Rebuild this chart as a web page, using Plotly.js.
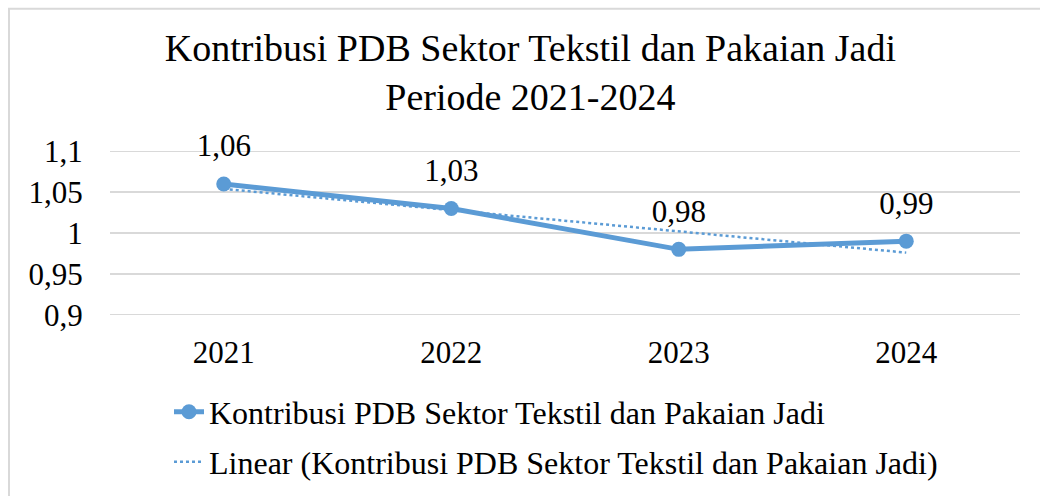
<!DOCTYPE html>
<html>
<head>
<meta charset="utf-8">
<script src="https://cdn.plot.ly/plotly-3.0.1.min.js"></script>
<style>
html,body{margin:0;padding:0;background:#fff;}
#chart{width:1040px;height:496px;}
</style>
</head>
<body>
<div id="chart"></div>
<script>
const years = ['2021', '2022', '2023', '2024'];
const values = [1.06, 1.03, 0.98, 0.99];
const valueLabels = ['1,06', '1,03', '0,98', '0,99'];
const trendValues = [1.054, 1.028, 1.002, 0.976];
const seriesName = 'Kontribusi PDB Sektor Tekstil dan Pakaian Jadi';
const trendName = 'Linear (Kontribusi PDB Sektor Tekstil dan Pakaian Jadi)';

const blue = '#5b9bd5';
const serif = "'Liberation Serif', 'Times New Roman', serif";

// plot area: gridline 1.1 at y=151, 0.9 at y=315 (41 px per 0.05)
const pxPerUnit = 820;
const pad = 0.004;
const topPx = 151 - pad * pxPerUnit;
const botPx = 315 + pad * pxPerUnit;
const plotH = botPx - topPx;

const traces = [
  {
    x: years, y: trendValues, type: 'scatter', mode: 'lines',
    name: trendName, legend: 'legend2',
    line: {color: blue, width: 2.5, dash: 'dot'},
    hoverinfo: 'skip'
  },
  {
    x: years, y: values, type: 'scatter', mode: 'lines+markers',
    name: seriesName, legend: 'legend',
    line: {color: blue, width: 5},
    marker: {color: blue, size: 15}
  },
  {
    x: years, y: values, type: 'scatter', mode: 'markers+text',
    showlegend: false, hoverinfo: 'skip',
    marker: {color: blue, size: 30, opacity: 0},
    text: valueLabels, textposition: 'top center',
    textfont: {family: serif, size: 31, color: '#000'},
    cliponaxis: false
  }
];

const layout = {
  width: 1040, height: 496,
  margin: {l: 110, r: 20, t: topPx, b: 496 - botPx, autoexpand: false},
  paper_bgcolor: '#fff', plot_bgcolor: '#fff',
  separators: ',.',
  font: {family: serif, size: 31, color: '#000'},
  title: {
    text: 'Kontribusi PDB Sektor Tekstil dan Pakaian Jadi<br>Periode 2021-2024',
    font: {family: serif, size: 38, color: '#000'},
    x: 0.51, xref: 'container', xanchor: 'center',
    y: 1 - 61 / 496, yref: 'container', yanchor: 'middle'
  },
  xaxis: {
    type: 'category', range: [-0.5, 3.5],
    showgrid: false, zeroline: false, showline: false,
    tickfont: {family: serif, size: 31, color: '#000'},
    ticks: 'outside', ticklen: 7, tickcolor: 'rgba(0,0,0,0)'
  },
  yaxis: {
    range: [0.9 - pad, 1.1 + pad], dtick: 0.05, tick0: 0.9,
    showgrid: true, gridcolor: '#d9d9d9', gridwidth: 1.5,
    zeroline: false, showline: false,
    tickfont: {family: serif, size: 31, color: '#000'},
    ticks: 'outside', ticklen: 20, tickcolor: 'rgba(0,0,0,0)'
  },
  showlegend: true,
  legend: {
    x: 0.1625, xref: 'container', xanchor: 'left',
    y: 1 - 412 / 496, yref: 'container', yanchor: 'middle',
    font: {family: serif, size: 32, color: '#000'},
    bgcolor: 'rgba(0,0,0,0)', itemwidth: 30
  },
  legend2: {
    x: 0.1625, xref: 'container', xanchor: 'left',
    y: 1 - 462 / 496, yref: 'container', yanchor: 'middle',
    font: {family: serif, size: 32, color: '#000'},
    bgcolor: 'rgba(0,0,0,0)', itemwidth: 30
  },
  shapes: [{
    type: 'rect', xref: 'paper', yref: 'paper',
    x0: (9 - 110) / 910, x1: (1060 - 110) / 910,
    y0: (botPx - 520) / plotH, y1: (botPx - 8) / plotH,
    line: {color: '#d9d9d9', width: 2}, fillcolor: 'rgba(0,0,0,0)', layer: 'below'
  }]
};

Plotly.newPlot('chart', traces, layout, {displayModeBar: false, staticPlot: true});
</script>
</body>
</html>
